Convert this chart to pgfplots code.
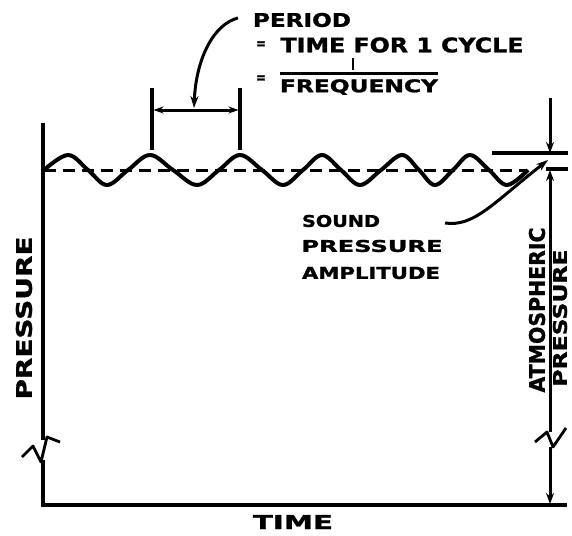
\documentclass[border=0pt]{standalone}
\usepackage{pgfplots}
\pgfplotsset{compat=1.18}
\usepackage{fontspec}
\setmainfont{DejaVu Sans}
\newfontfamily\hand{DejaVu Sans}[BoldFeatures={FakeBold=1.2}]
\usepackage{graphicx}
\usetikzlibrary{arrows.meta}
\newcommand{\lbl}[3]{\resizebox{#1pt}{#2pt}{\hand\bfseries #3}}
\begin{document}
\begin{tikzpicture}
\begin{axis}[scale only axis, width=572pt, height=535pt,
  xmin=0, xmax=572, ymin=0, ymax=535, y dir=reverse,
  hide axis, clip=false]
% sound wave
\addplot[no markers, line width=4pt, smooth, tension=0.6] coordinates {
(44,170) (68,155) (88,170) (107,185) (128,170) (150,155) (173,170) (197,185)
(219,170) (240,155) (262,170) (283,185) (303,170) (322,155) (341,170) (360,185)
(381,170) (402,155) (419,170) (435,185) (453,170) (470,155) (489,170) (507,185)
(528,170)};
% atmospheric (mean) pressure
\addplot[no markers, line width=3pt, dash pattern=on 12pt off 7pt] coordinates {(44,170) (526,170)};
% left axis with break
\draw[line width=3.4pt] (43,123) -- (43,440);
\draw[line width=2.8pt, line join=round] (22,457) -- (33,446) -- (41,462) -- (47,437) -- (60,442);
\draw[line width=3.4pt] (43,460) -- (43,506.5);
% bottom axis
\draw[line width=3.4pt] (41.3,505) -- (567,505);
% right dimension
\draw[line width=3pt, -{Stealth[length=11pt,width=8pt]}] (550,98) -- (550,153);
\draw[line width=3.2pt] (492,153) -- (568,153);
\draw[line width=3.2pt] (546,169) -- (568,169);
\draw[line width=3pt, {Stealth[length=11pt,width=8pt]}-] (550,170) -- (550,432);
\draw[line width=2.8pt, line join=round] (535,442) -- (547,432) -- (553,447) -- (566,428);
\draw[line width=3pt, -{Stealth[length=11pt,width=8pt]}] (550,447) -- (550,504);
% period dimension
\draw[line width=3.2pt] (152,88) -- (152,150);
\draw[line width=3.2pt] (240,88) -- (240,150);
\draw[line width=3pt, {Stealth[length=10pt,width=7pt]}-{Stealth[length=10pt,width=7pt]}] (153.5,110) -- (238.5,110);
\draw[line width=3pt, -{Stealth[length=12pt,width=8pt]}] (238,18) .. controls (214,24) and (196,58) .. (194,108);
% amplitude arrow
\draw[line width=3pt, -{Stealth[length=12pt,width=8pt]}] (445,223) .. controls (474,227) and (492,204) .. (548,160);
% texts
\node at (302,20) {\lbl{98}{14}{PERIOD}};
\node at (261,45) {\lbl{10}{7}{=}};
\node at (402,45) {\lbl{243}{15}{TIME FOR 1 CYCLE}};
\node at (261,79) {\lbl{10}{7}{=}};
\draw[line width=2.6pt] (353,58) -- (353,70);
\draw[line width=3pt] (280,73) -- (438,73);
\node at (359,87) {\lbl{158}{13}{FREQUENCY}};
\node at (341,221) {\lbl{78}{12}{SOUND}};
\node at (372,246) {\lbl{141}{12}{PRESSURE}};
\node at (371,273) {\lbl{138}{12}{AMPLITUDE}};
\node at (293,522) {\lbl{80}{14}{TIME}};
\node[rotate=90] at (24,318) {\lbl{163}{16}{PRESSURE}};
\node[rotate=90] at (537,310) {\lbl{165}{16}{ATMOSPHERIC}};
\node[rotate=90] at (560,318) {\lbl{137}{14}{PRESSURE}};
\end{axis}
\pgfresetboundingbox
\path (current axis.south west) rectangle (current axis.north east);
\end{tikzpicture}
\end{document}
